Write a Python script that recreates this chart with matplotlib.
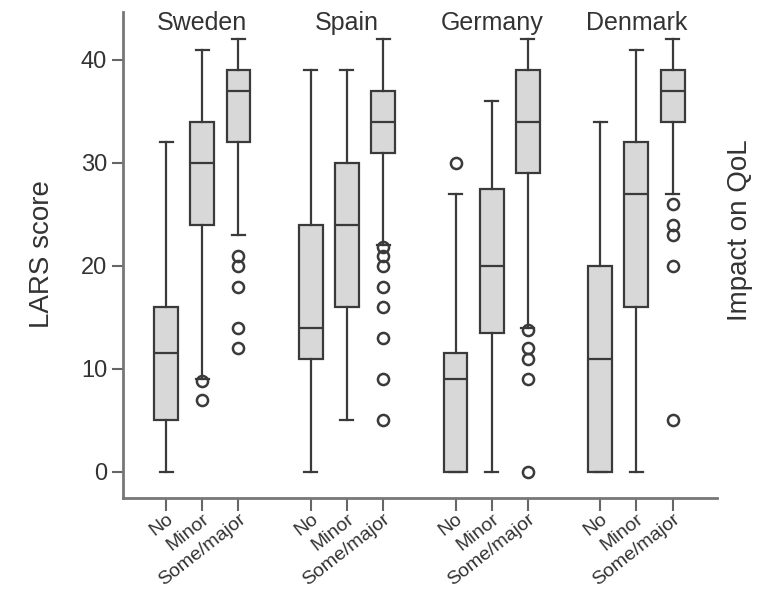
import matplotlib
matplotlib.use("Agg")
import matplotlib.pyplot as plt

plt.rcParams['font.family'] = ['Liberation Sans', 'DejaVu Sans']

# LARS score by country and impact on QoL
countries = ['Sweden', 'Spain', 'Germany', 'Denmark']
groups = ['No', 'Minor', 'Some/major']

whislo = [0, 9, 23,   0, 5, 22,   0, 0, 14,   0, 0, 27]
q1     = [5, 24, 32,  11, 16, 31, 0, 13.5, 29, 0, 16, 34]
med    = [11.5, 30, 37, 14, 24, 34, 9, 20, 34, 11, 27, 37]
q3     = [16, 34, 39,  24, 30, 37, 11.5, 27.5, 39, 20, 32, 39]
whishi = [32, 41, 42,  39, 39, 42, 27, 36, 42, 34, 41, 42]
fliers = [
    [], [8.8, 7], [21, 20, 18, 14, 12],
    [], [], [21.8, 21, 20, 18, 16, 13, 9, 5],
    [30], [], [13.8, 12, 11, 9, 0],
    [], [], [26, 24, 23, 20, 5],
]

positions = [1, 2, 3, 5, 6, 7, 9, 10, 11, 13, 14, 15]

stats = []
for i in range(len(positions)):
    stats.append(dict(med=med[i], q1=q1[i], q3=q3[i], whislo=whislo[i],
                      whishi=whishi[i], fliers=fliers[i]))

edge = '#3a3a3a'
txt = '#333333'

fig = plt.figure(figsize=(7.69, 5.90), dpi=100)
ax = fig.add_axes([0.16, 0.156, 0.772, 0.824])

ax.bxp(stats, positions=positions, widths=0.66, patch_artist=True,
       showfliers=True, capwidths=0.36,
       boxprops=dict(facecolor='#d8d8d8', edgecolor=edge, linewidth=1.6),
       medianprops=dict(color=edge, linewidth=1.6),
       whiskerprops=dict(color=edge, linewidth=1.6),
       capprops=dict(color=edge, linewidth=1.6),
       flierprops=dict(marker='o', markerfacecolor='none', markeredgecolor=edge,
                       markersize=8, markeredgewidth=1.8))

ax.set_xlim(-0.19, 16.22)
ax.set_ylim(-2.52, 44.66)

ax.set_yticks([0, 10, 20, 30, 40])
ax.set_xticks(positions)
ax.set_xticklabels(groups * 4, rotation=38, ha='right', va='top', fontsize=14,
                   color=txt, rotation_mode='anchor')
ax.tick_params(axis='y', labelsize=17, colors=txt, length=8, width=1.5, color='#666666')
ax.tick_params(axis='x', length=9, width=1.5, color='#666666', pad=0)

for s in ['top', 'right']:
    ax.spines[s].set_visible(False)
for s in ['left', 'bottom']:
    ax.spines[s].set_color('#777777')
    ax.spines[s].set_linewidth(2)

for k, c in enumerate(countries):
    ax.text(positions[3 * k + 1], 43.6, c, ha='center', va='center',
            fontsize=18, color=txt)

fig.text(0.055, 0.569, 'LARS score', rotation=90, ha='center', va='center',
         fontsize=20, color=txt)
fig.text(0.962, 0.61, 'Impact on QoL', rotation=90, ha='center', va='center',
         fontsize=20, color=txt)

fig.savefig('out.png', dpi=100)
